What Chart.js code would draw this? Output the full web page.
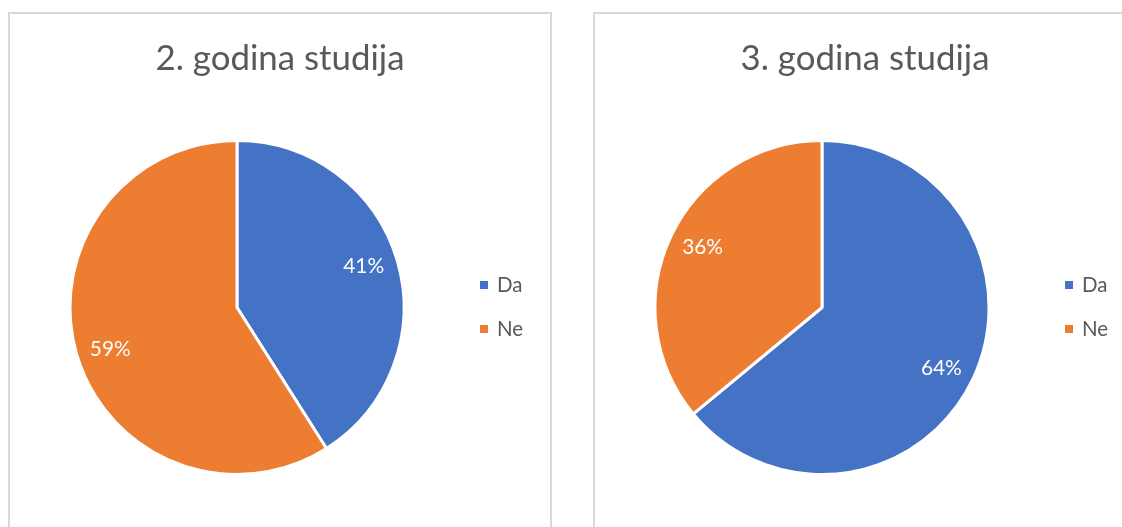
<!DOCTYPE html>
<html><head><meta charset="utf-8">
<script src="https://cdn.jsdelivr.net/npm/chart.js@4.4.0/dist/chart.umd.min.js"></script>
<style>
html,body{margin:0;padding:0;background:#fff;width:1122px;height:527px;overflow:hidden;}
.panel{position:absolute;border:2px solid #d9d9d9;background:#fff;box-sizing:border-box;}
#p1{left:8px;top:12px;width:544px;height:530px;}
#p2{left:593px;top:12px;width:544px;height:530px;}
canvas{position:absolute;left:0;top:0;}
</style></head><body>
<div class="panel" id="p1"><canvas id="c1" width="540" height="526"></canvas></div>
<div class="panel" id="p2"><canvas id="c2" width="540" height="526"></canvas></div>
<script>
const categories = ["Da", "Ne"];
const titles = ["2. godina studija", "3. godina studija"];
const year2Values = [41, 59];
const year3Values = [64, 36];
const colors = ["#4472c4", "#ed7d31"];

const FAMILY = "Lato, 'Open Sans', sans-serif";

function fitSize(ctx, text, target) {
  ctx.save();
  ctx.font = '100px ' + FAMILY;
  const w = ctx.measureText(text).width;
  ctx.restore();
  return 100 * target / w;
}

const overlay = {
  id: 'overlay',
  afterDraw(chart, args, opts) {
    const ctx = chart.ctx;
    const meta = chart.getDatasetMeta(0);
    const data = chart.data.datasets[0].data;
    const total = data.reduce((a,b)=>a+b,0);
    const titleSize = fitSize(ctx, opts.title, 249);
    const labelSize = fitSize(ctx, '41%', 41);
    const legSize = fitSize(ctx, 'Da', 25.5);
    ctx.save();
    // title
    ctx.fillStyle = '#595959';
    ctx.font = titleSize.toFixed(2) + 'px ' + FAMILY;
    ctx.textAlign = 'center';
    ctx.textBaseline = 'middle';
    ctx.fillText(opts.title, opts.titleX, 45);
    // data labels
    ctx.fillStyle = '#ffffff';
    ctx.font = labelSize.toFixed(2) + 'px ' + FAMILY;
    meta.data.forEach((arc, i) => {
      const mid = (arc.startAngle + arc.endAngle) / 2;
      const r = arc.outerRadius * 0.79;
      const s = Math.sin(mid);
      const x = arc.x + Math.cos(mid) * r;
      const y = arc.y + s * r + (s >= 0 ? 5 : -4);
      ctx.fillText(Math.round(data[i] / total * 100) + '%', x, y);
    });
    // legend
    ctx.font = legSize.toFixed(2) + 'px ' + FAMILY;
    ctx.textAlign = 'left';
    chart.data.labels.forEach((lab, i) => {
      const y = 271 + i * 44;
      ctx.fillStyle = colors[i];
      ctx.fillRect(opts.legX, y - 4, 8, 8);
      ctx.fillStyle = '#595959';
      ctx.fillText(lab, opts.legX + 17, y);
    });
    ctx.restore();
  }
};

function makePie(id, values, title, titleX, legX) {
  return new Chart(document.getElementById(id), {
    type: 'pie',
    data: {
      labels: categories,
      datasets: [{
        data: values,
        backgroundColor: colors,
        borderColor: '#ffffff',
        borderWidth: 3,
        hoverOffset: 0
      }]
    },
    options: {
      responsive: false,
      animation: false,
      events: [],
      layout: { padding: { left: 58.5, right: 144.5, top: 125, bottom: 64 } },
      plugins: {
        legend: { display: false },
        tooltip: { enabled: false },
        title: { display: false },
        overlay: { title: title, titleX: titleX, legX: legX }
      }
    },
    plugins: [overlay]
  });
}
makePie('c1', year2Values, titles[0], 270, 470);
makePie('c2', year3Values, titles[1], 270, 470);
</script>
</body></html>
